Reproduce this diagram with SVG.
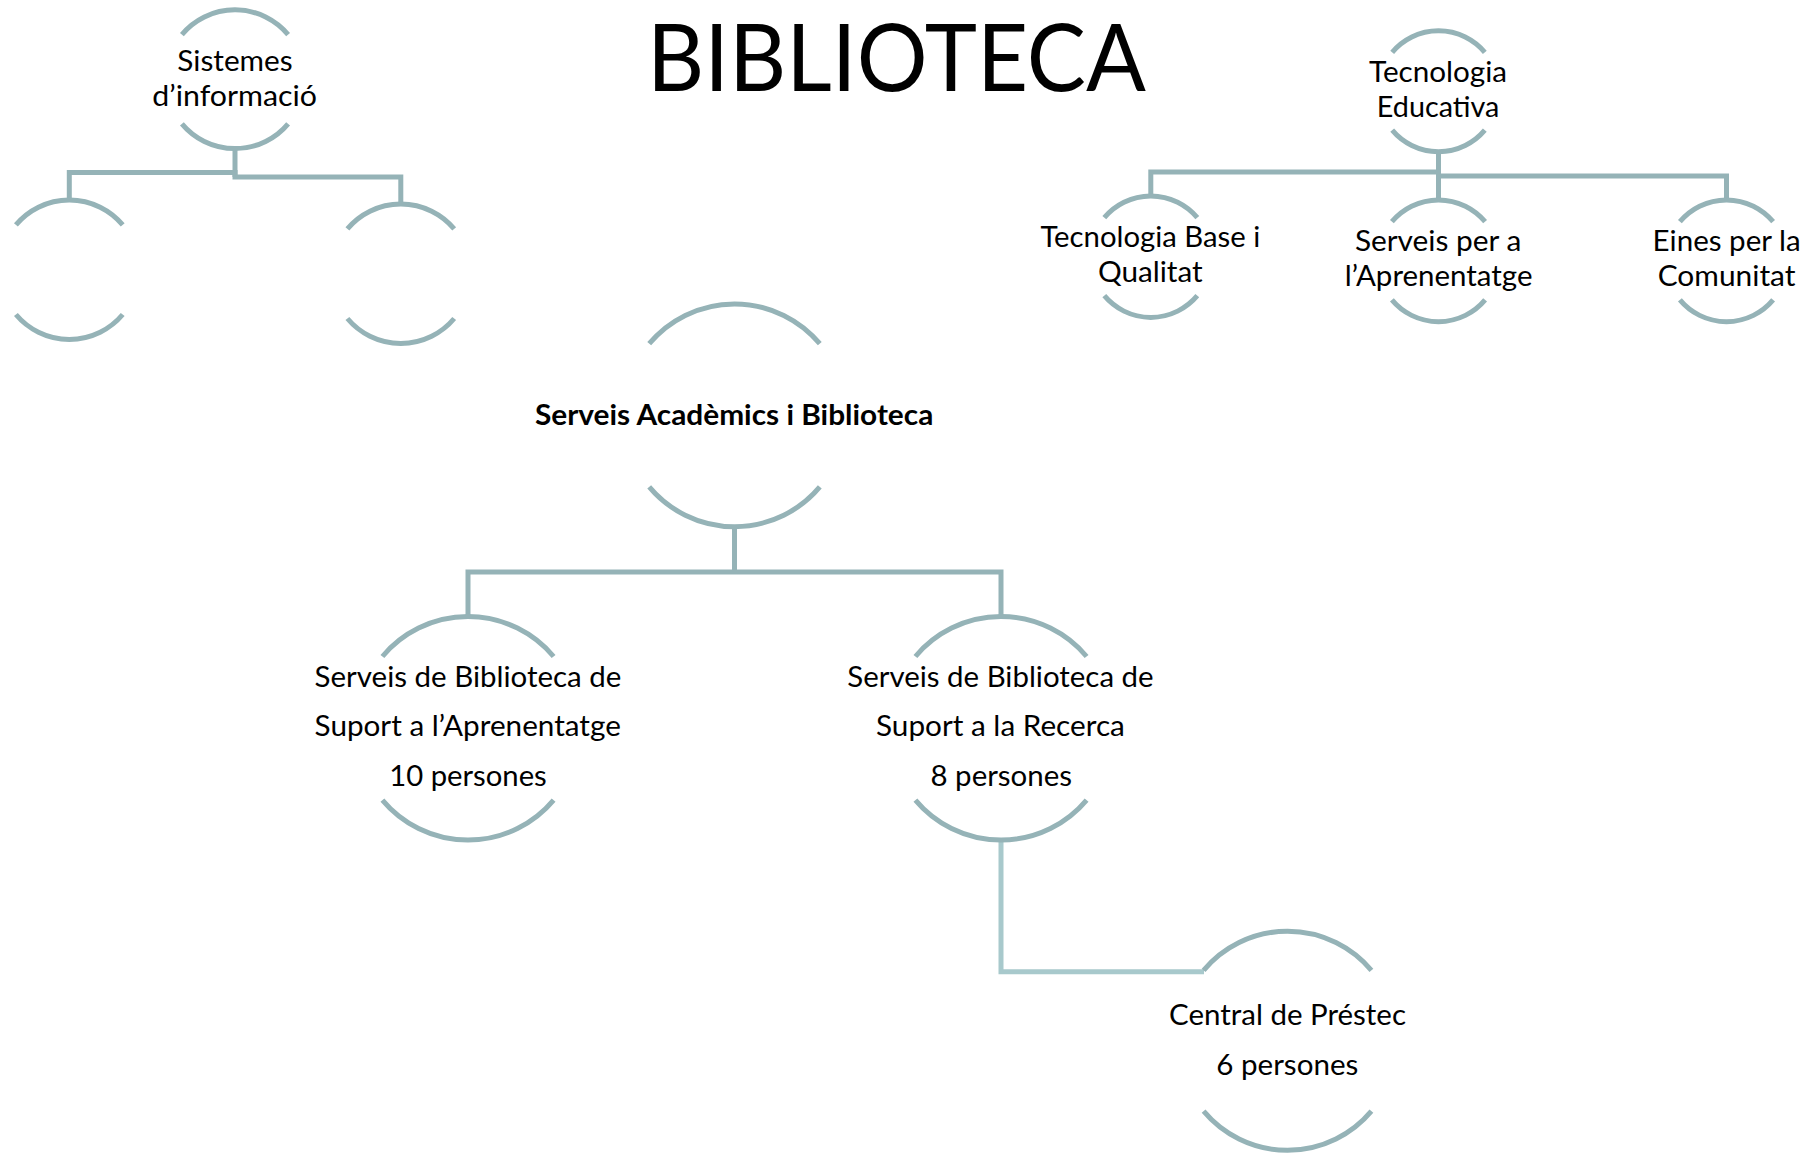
<svg xmlns="http://www.w3.org/2000/svg" width="1818" height="1153" viewBox="0 0 1818 1153">
<style>
.arc{fill:none;stroke:#95b3b7;stroke-width:5}
.conn{fill:none;stroke:#95b3b7;stroke-width:5;stroke-linejoin:miter}
.light{stroke:#a8c9cc}
.t{font-family:Lato,"Open Sans","Liberation Sans",sans-serif;font-size:28px;fill:#000}
.b{font-weight:bold}
.title{font-family:Lato,"Open Sans","Liberation Sans",sans-serif;font-size:93px;fill:#000}
</style>
<rect width="1818" height="1153" fill="#fff"/>
<g id="connectors">
<path class="conn" d="M235,148.5 V177"/>
<path class="conn" d="M69.3,200 V172.5 H237.5"/>
<path class="conn" d="M232.5,177 H400.8 V204"/>
<path class="conn" d="M1438.5,151.7 V200"/>
<path class="conn" d="M1150.8,196 V172 H1441"/>
<path class="conn" d="M1436,176 H1726.5 V200"/>
<path class="conn" d="M734.5,526.6 V572"/>
<path class="conn" d="M468,617 V572 H1001 V617"/>
<path class="conn light" d="M1001,840 V971.7 H1204"/>
</g>
<g id="title"><text class="title" x="647" y="91" textLength="499" lengthAdjust="spacingAndGlyphs">BIBLIOTECA</text></g>
<g id="n-sistemes">
<path class="arc" d="M181.9,34.6 A69.3,69.3 0 0 1 288.1,34.6 M181.9,123.8 A69.3,69.3 0 0 0 288.1,123.8"/>
<text class="t" x="177.3" y="71" textLength="115.4" lengthAdjust="spacingAndGlyphs">Sistemes</text>
<text class="t" x="152.3" y="106" textLength="164.7" lengthAdjust="spacingAndGlyphs">d’informació</text>
</g>
<g id="n-empty-left">
<path class="arc" d="M15.9,224.9 A69.7,69.7 0 0 1 122.7,224.9 M15.9,314.5 A69.7,69.7 0 0 0 122.7,314.5"/>
</g>
<g id="n-empty-right">
<path class="arc" d="M347.4,228.9 A69.7,69.7 0 0 1 454.2,228.9 M347.4,318.5 A69.7,69.7 0 0 0 454.2,318.5"/>
</g>
<g id="n-tecnologia-educativa">
<path class="arc" d="M1392.2,52.3 A60.5,60.5 0 0 1 1484.8,52.3 M1392.2,130.1 A60.5,60.5 0 0 0 1484.8,130.1"/>
<text class="t" x="1369.1" y="82" textLength="138" lengthAdjust="spacingAndGlyphs">Tecnologia</text>
<text class="t" x="1376.8" y="117" textLength="122.6" lengthAdjust="spacingAndGlyphs">Educativa</text>
</g>
<g id="n-tecnologia-base">
<path class="arc" d="M1104.3,217.7 A60.7,60.7 0 0 1 1197.3,217.7 M1104.3,295.7 A60.7,60.7 0 0 0 1197.3,295.7"/>
<text class="t" x="1040.4" y="246.7" textLength="219.8" lengthAdjust="spacingAndGlyphs">Tecnologia Base i</text>
<text class="t" x="1097.9" y="281.7" textLength="104.8" lengthAdjust="spacingAndGlyphs">Qualitat</text>
</g>
<g id="n-serveis-aprenentatge">
<path class="arc" d="M1391.9,221.7 A60.8,60.8 0 0 1 1485.1,221.7 M1391.9,299.9 A60.8,60.8 0 0 0 1485.1,299.9"/>
<text class="t" x="1354.9" y="250.7" textLength="166.4" lengthAdjust="spacingAndGlyphs">Serveis per a</text>
<text class="t" x="1344.7" y="285.7" textLength="187.8" lengthAdjust="spacingAndGlyphs">l’Aprenentatge</text>
</g>
<g id="n-eines">
<path class="arc" d="M1679.9,221.7 A60.8,60.8 0 0 1 1773.1,221.7 M1679.9,299.9 A60.8,60.8 0 0 0 1773.1,299.9"/>
<text class="t" x="1652.6" y="250.7" textLength="148" lengthAdjust="spacingAndGlyphs">Eines per la</text>
<text class="t" x="1657.7" y="285.7" textLength="137.8" lengthAdjust="spacingAndGlyphs">Comunitat</text>
</g>
<g id="n-sab">
<path class="arc" d="M649.2,343.7 A111.3,111.3 0 0 1 819.8,343.7 M649.2,486.9 A111.3,111.3 0 0 0 819.8,486.9"/>
<text class="t b" x="535" y="425" textLength="398.3" lengthAdjust="spacingAndGlyphs">Serveis Acadèmics i Biblioteca</text>
</g>
<g id="n-suport-aprenentatge">
<path class="arc" d="M382.4,656.5 A111.7,111.7 0 0 1 553.6,656.5 M382.4,800.1 A111.7,111.7 0 0 0 553.6,800.1"/>
<text class="t" x="314.6" y="687.3" textLength="306.8" lengthAdjust="spacingAndGlyphs">Serveis de Biblioteca de</text>
<text class="t" x="314.6" y="736" textLength="306.2" lengthAdjust="spacingAndGlyphs">Suport a l’Aprenentatge</text>
<text class="t" x="389.2" y="786" textLength="157.6" lengthAdjust="spacingAndGlyphs">10 persones</text>
</g>
<g id="n-suport-recerca">
<path class="arc" d="M915.4,656.5 A111.7,111.7 0 0 1 1086.6,656.5 M915.4,800.1 A111.7,111.7 0 0 0 1086.6,800.1"/>
<text class="t" x="847.3" y="687.3" textLength="306.3" lengthAdjust="spacingAndGlyphs">Serveis de Biblioteca de</text>
<text class="t" x="876" y="736" textLength="248.9" lengthAdjust="spacingAndGlyphs">Suport a la Recerca</text>
<text class="t" x="930.5" y="786" textLength="141.5" lengthAdjust="spacingAndGlyphs">8 persones</text>
</g>
<g id="n-central">
<path class="arc" d="M1203.6,970.4 A109.5,109.5 0 0 1 1371.4,970.4 M1203.6,1111.2 A109.5,109.5 0 0 0 1371.4,1111.2"/>
<text class="t" x="1169" y="1025" textLength="237" lengthAdjust="spacingAndGlyphs">Central de Préstec</text>
<text class="t" x="1216.3" y="1075" textLength="142" lengthAdjust="spacingAndGlyphs">6 persones</text>
</g>
</svg>
